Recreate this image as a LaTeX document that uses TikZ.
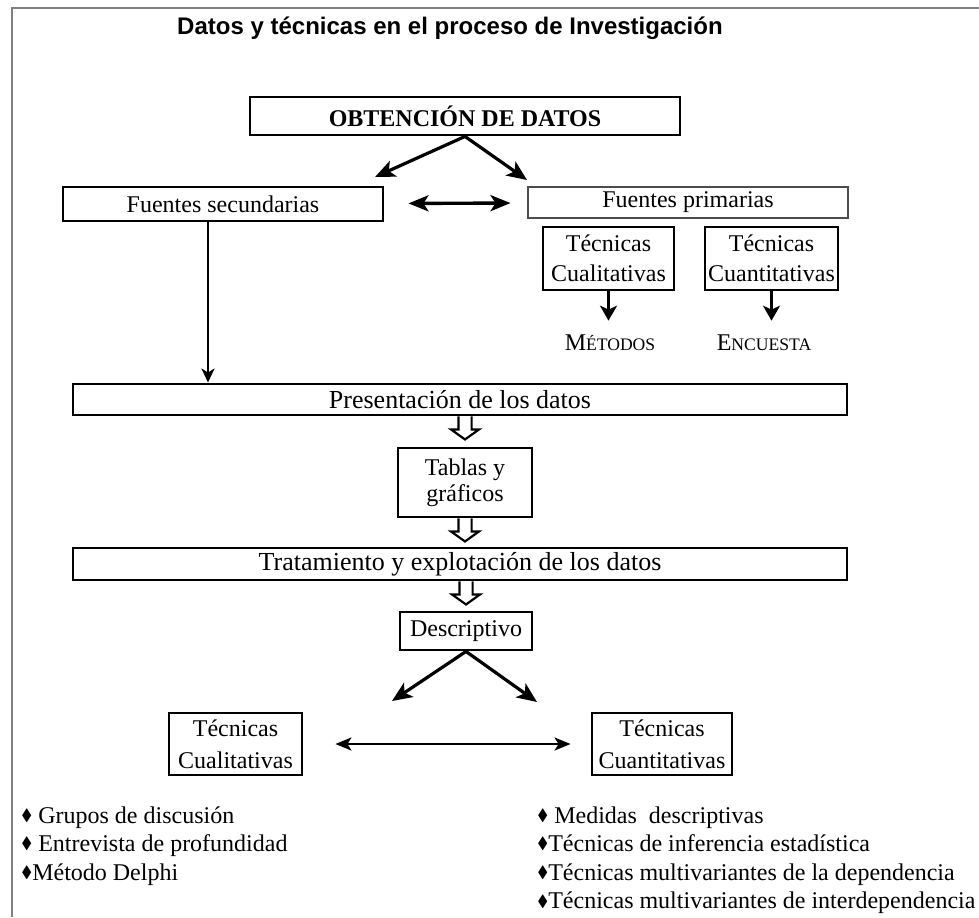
\documentclass[tikz,border=0pt]{standalone}
\usepackage{amssymb}
\usepackage{fontspec}
\setmainfont{Liberation Serif}
\setsansfont{Liberation Sans}
\usetikzlibrary{arrows.meta}
\newcommand{\versal}[2]{#1{\fontsize{8.8pt}{10pt}\selectfont #2}}
\newcommand{\bala}{\raisebox{0.25ex}{\scalebox{0.68}{$\blacklozenge$}}}
\newcommand{\hueca}[1]{\draw[hueco] (#1) ++(-3.3pt,0) -- ++(0,-6.5pt) -- ++(-3.7pt,0) -- ++(7pt,-5pt) -- ++(7pt,5pt) -- ++(-3.7pt,0) -- ++(0,6.5pt);}

\begin{document}
\begin{tikzpicture}[x=0.5pt,y=-0.5pt,
	caja/.style={draw,line width=1.45pt,inner sep=1pt,align=center,font=\fontsize{12pt}{15pt}\selectfont},
	flecha/.style={line width=1.6pt,-{Stealth[length=10pt,width=8.5pt,inset=2.5pt]}},
	flechita/.style={line width=1.3pt,-{Stealth[length=7.5pt,width=8.5pt,inset=2pt]},shorten >=6pt},
	flechab/.style={line width=1.4pt,-{Stealth[length=7pt,width=6.5pt,inset=2pt]}},
	dobleA/.style={line width=1.7pt,{Stealth[length=10pt,width=8pt,inset=2.5pt]}-{Stealth[length=10pt,width=8pt,inset=2.5pt]},shorten <=12pt,shorten >=8pt},
	dobleB/.style={line width=1.1pt,{Stealth[length=8pt,width=6.5pt,inset=2pt]}-{Stealth[length=8pt,width=6.5pt,inset=2pt]},shorten <=16pt,shorten >=10pt},
	hueco/.style={line width=1.1pt,line join=miter},
	lista/.style={anchor=north west,inner sep=0pt,align=left,font=\fontsize{12pt}{14.3pt}\selectfont},
	marco/.style={draw=black!50,line width=1pt}]
\useasboundingbox (0,0) rectangle (979,917);
\draw[marco] (12,917) -- (12,8) -- (979,8);
\node[font=\sffamily\bfseries\fontsize{12pt}{14pt}\selectfont] (titulo) at (450,28) {Datos y técnicas en el proceso de Investigación};

\node[caja,font=\bfseries\fontsize{12pt}{14pt}\selectfont,minimum width=215pt,minimum height=19pt] (obt) at (465,116) {OBTENCIÓN DE DATOS};
\coordinate (obtI) at (375,177);
\coordinate (obtD) at (527,180);
\node[caja,minimum width=160pt,minimum height=17pt] (fsec) at (223,204) {Fuentes secundarias};
\node[caja,draw=black!70,minimum width=160pt,minimum height=15.5pt] (fprim) at (688,202.5) {Fuentes primarias};
\node[caja,minimum width=65.5pt,minimum height=31.5pt] (tcualA) at (608.5,258.5) {Técnicas\\Cualitativas};
\node[caja,minimum width=66.5pt,minimum height=31.5pt] (tcuanA) at (771.5,258.5) {Técnicas\\Cuantitativas};
\node[inner sep=1pt,font=\fontsize{12pt}{14pt}\selectfont] (met) at (610,343) {\versal{M}{ÉTODOS}};
\node[inner sep=1pt,font=\fontsize{12pt}{14pt}\selectfont] (enc) at (764,343) {\versal{E}{NCUESTA}};

\node[caja,font=\fontsize{13pt}{15pt}\selectfont,minimum width=387pt,minimum height=15.5pt] (pres) at (460,399.5) {Presentación de los datos};
\node[caja,font=\fontsize{12pt}{13pt}\selectfont,minimum width=67pt,minimum height=34.5pt] (tablas) at (465,482.5) {Tablas y\\gráficos};
\node[caja,font=\fontsize{13pt}{15pt}\selectfont,minimum width=387pt,minimum height=16pt] (trat) at (460,564) {Tratamiento y explotación de los datos};
\node[caja,minimum width=66pt,minimum height=19pt] (desc) at (466,631) {Descriptivo};
\coordinate (descI) at (392,701);
\coordinate (descD) at (537,702);
\node[caja,font=\fontsize{12pt}{16pt}\selectfont,minimum width=66.5pt,minimum height=31pt] (tcualB) at (235.5,744) {Técnicas\\Cualitativas};
\node[caja,font=\fontsize{12pt}{16pt}\selectfont,minimum width=70pt,minimum height=31pt] (tcuanB) at (662,744) {Técnicas\\Cuantitativas};

\node[lista] (listaI) at (21,806) {\bala{} Grupos de discusión\\\bala{} Entrevista de profundidad\\\bala Método Delphi};
\node[lista] (listaD) at (537,806) {\bala{} Medidas\ \ descriptivas\\\bala Técnicas de inferencia estadística\\\bala Técnicas multivariantes de la dependencia\\\bala Técnicas multivariantes de interdependencia};

\draw[flecha] (obt.south) -- (obtI);
\draw[flecha] (obt.south) -- (obtD);
\draw[dobleA] (fsec) -- (fprim);
\draw[flechita] (tcualA.south) -- (tcualA.south |- met.north);
\draw[flechita] (tcuanA.south) -- (tcuanA.south |- enc.north);
\draw[flechab] ([xshift=-7.5pt]fsec.south) -- ([xshift=-7.5pt]fsec.south |- pres.north);
\hueca{pres.south -| tablas}
\hueca{tablas.south}
\hueca{trat.south -| desc} % hollow arrows drawn by hand
\draw[flecha] (desc.south) -- (descI);
\draw[flecha] (desc.south) -- (descD);
\draw[dobleB] (tcualB) -- (tcuanB);
\end{tikzpicture}
\end{document}
